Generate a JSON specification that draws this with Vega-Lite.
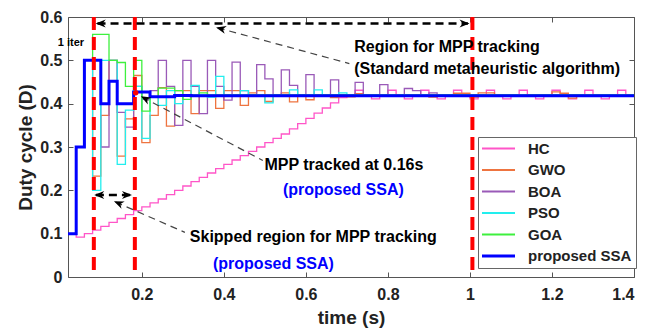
{
  "$schema": "https://vega.github.io/schema/vega-lite/v6.json",
  "width": 566,
  "height": 260,
  "autosize": {"type": "none"},
  "padding": {"left": 68, "top": 17, "right": 28, "bottom": 53},
  "background": "white",
  "config": {
    "font": "Liberation Sans",
    "view": {"stroke": "#555", "strokeWidth": 1},
    "axis": {"grid": false, "domain": false, "labelFont": "Liberation Sans", "labelFontWeight": "bold", "labelFontSize": 16, "labelColor": "#222", "titleFont": "Liberation Sans", "titleFontWeight": "bold", "titleFontSize": 19, "titleColor": "#222", "tickColor": "#555", "tickSize": -5},
    "text": {"font": "Liberation Sans", "fontWeight": "bold", "fontSize": 16}
  },
  "datasets": {
    "series": [
      {"alg": "HC", "t": 0.02, "v": 0.1}, {"alg": "HC", "t": 0.04, "v": 0.092}, {"alg": "HC", "t": 0.06, "v": 0.1}, {"alg": "HC", "t": 0.08, "v": 0.108}, {"alg": "HC", "t": 0.10, "v": 0.117}, {"alg": "HC", "t": 0.12, "v": 0.126}, {"alg": "HC", "t": 0.14, "v": 0.135}, {"alg": "HC", "t": 0.16, "v": 0.144}, {"alg": "HC", "t": 0.18, "v": 0.153}, {"alg": "HC", "t": 0.20, "v": 0.162}, {"alg": "HC", "t": 0.22, "v": 0.171}, {"alg": "HC", "t": 0.24, "v": 0.18}, {"alg": "HC", "t": 0.26, "v": 0.19}, {"alg": "HC", "t": 0.28, "v": 0.2}, {"alg": "HC", "t": 0.30, "v": 0.21}, {"alg": "HC", "t": 0.32, "v": 0.22}, {"alg": "HC", "t": 0.34, "v": 0.23}, {"alg": "HC", "t": 0.36, "v": 0.24}, {"alg": "HC", "t": 0.38, "v": 0.25}, {"alg": "HC", "t": 0.40, "v": 0.26}, {"alg": "HC", "t": 0.42, "v": 0.27}, {"alg": "HC", "t": 0.44, "v": 0.28}, {"alg": "HC", "t": 0.46, "v": 0.29}, {"alg": "HC", "t": 0.48, "v": 0.30}, {"alg": "HC", "t": 0.50, "v": 0.31}, {"alg": "HC", "t": 0.52, "v": 0.32}, {"alg": "HC", "t": 0.54, "v": 0.33}, {"alg": "HC", "t": 0.56, "v": 0.342}, {"alg": "HC", "t": 0.58, "v": 0.354}, {"alg": "HC", "t": 0.60, "v": 0.366}, {"alg": "HC", "t": 0.62, "v": 0.378}, {"alg": "HC", "t": 0.64, "v": 0.39}, {"alg": "HC", "t": 0.66, "v": 0.402}, {"alg": "HC", "t": 0.68, "v": 0.414}, {"alg": "HC", "t": 0.70, "v": 0.42}, {"alg": "HC", "t": 0.72, "v": 0.431}, {"alg": "HC", "t": 0.74, "v": 0.42}, {"alg": "HC", "t": 0.76, "v": 0.411}, {"alg": "HC", "t": 0.78, "v": 0.42}, {"alg": "HC", "t": 0.80, "v": 0.431}, {"alg": "HC", "t": 0.82, "v": 0.42}, {"alg": "HC", "t": 0.84, "v": 0.411}, {"alg": "HC", "t": 0.86, "v": 0.42}, {"alg": "HC", "t": 0.88, "v": 0.431}, {"alg": "HC", "t": 0.90, "v": 0.42}, {"alg": "HC", "t": 0.92, "v": 0.411}, {"alg": "HC", "t": 0.94, "v": 0.42}, {"alg": "HC", "t": 0.96, "v": 0.431}, {"alg": "HC", "t": 0.98, "v": 0.42}, {"alg": "HC", "t": 1.00, "v": 0.411}, {"alg": "HC", "t": 1.02, "v": 0.42}, {"alg": "HC", "t": 1.04, "v": 0.431}, {"alg": "HC", "t": 1.06, "v": 0.42}, {"alg": "HC", "t": 1.08, "v": 0.411}, {"alg": "HC", "t": 1.10, "v": 0.42}, {"alg": "HC", "t": 1.12, "v": 0.431}, {"alg": "HC", "t": 1.14, "v": 0.42}, {"alg": "HC", "t": 1.16, "v": 0.411}, {"alg": "HC", "t": 1.18, "v": 0.42}, {"alg": "HC", "t": 1.20, "v": 0.431}, {"alg": "HC", "t": 1.22, "v": 0.42}, {"alg": "HC", "t": 1.24, "v": 0.411}, {"alg": "HC", "t": 1.26, "v": 0.42}, {"alg": "HC", "t": 1.28, "v": 0.431}, {"alg": "HC", "t": 1.30, "v": 0.42}, {"alg": "HC", "t": 1.32, "v": 0.411}, {"alg": "HC", "t": 1.34, "v": 0.42}, {"alg": "HC", "t": 1.36, "v": 0.431}, {"alg": "HC", "t": 1.38, "v": 0.42}, {"alg": "HC", "t": 1.40, "v": 0.42},

      {"alg": "GWO", "t": 0.02, "v": 0.1}, {"alg": "GWO", "t": 0.04, "v": 0.3}, {"alg": "GWO", "t": 0.06, "v": 0.5}, {"alg": "GWO", "t": 0.08, "v": 0.233}, {"alg": "GWO", "t": 0.10, "v": 0.373}, {"alg": "GWO", "t": 0.12, "v": 0.5}, {"alg": "GWO", "t": 0.14, "v": 0.279}, {"alg": "GWO", "t": 0.16, "v": 0.365}, {"alg": "GWO", "t": 0.18, "v": 0.465}, {"alg": "GWO", "t": 0.20, "v": 0.31}, {"alg": "GWO", "t": 0.22, "v": 0.373}, {"alg": "GWO", "t": 0.24, "v": 0.437}, {"alg": "GWO", "t": 0.26, "v": 0.348}, {"alg": "GWO", "t": 0.28, "v": 0.43}, {"alg": "GWO", "t": 0.30, "v": 0.43}, {"alg": "GWO", "t": 0.32, "v": 0.377}, {"alg": "GWO", "t": 0.34, "v": 0.43}, {"alg": "GWO", "t": 0.36, "v": 0.43}, {"alg": "GWO", "t": 0.38, "v": 0.389}, {"alg": "GWO", "t": 0.40, "v": 0.43}, {"alg": "GWO", "t": 0.42, "v": 0.43}, {"alg": "GWO", "t": 0.44, "v": 0.396}, {"alg": "GWO", "t": 0.46, "v": 0.425}, {"alg": "GWO", "t": 0.48, "v": 0.43}, {"alg": "GWO", "t": 0.50, "v": 0.405}, {"alg": "GWO", "t": 0.52, "v": 0.42}, {"alg": "GWO", "t": 0.54, "v": 0.425}, {"alg": "GWO", "t": 0.56, "v": 0.404}, {"alg": "GWO", "t": 0.58, "v": 0.42}, {"alg": "GWO", "t": 0.60, "v": 0.409}, {"alg": "GWO", "t": 0.62, "v": 0.42}, {"alg": "GWO", "t": 0.64, "v": 0.418}, {"alg": "GWO", "t": 0.66, "v": 0.414}, {"alg": "GWO", "t": 0.68, "v": 0.42}, {"alg": "GWO", "t": 0.70, "v": 0.416}, {"alg": "GWO", "t": 0.72, "v": 0.423}, {"alg": "GWO", "t": 0.74, "v": 0.418}, {"alg": "GWO", "t": 0.76, "v": 0.42}, {"alg": "GWO", "t": 0.90, "v": 0.415}, {"alg": "GWO", "t": 0.92, "v": 0.42}, {"alg": "GWO", "t": 0.96, "v": 0.424}, {"alg": "GWO", "t": 1.00, "v": 0.415}, {"alg": "GWO", "t": 1.02, "v": 0.425}, {"alg": "GWO", "t": 1.06, "v": 0.421}, {"alg": "GWO", "t": 1.12, "v": 0.419}, {"alg": "GWO", "t": 1.14, "v": 0.42}, {"alg": "GWO", "t": 1.20, "v": 0.427}, {"alg": "GWO", "t": 1.22, "v": 0.424}, {"alg": "GWO", "t": 1.24, "v": 0.413}, {"alg": "GWO", "t": 1.26, "v": 0.42}, {"alg": "GWO", "t": 1.40, "v": 0.42},

      {"alg": "BOA", "t": 0.02, "v": 0.1}, {"alg": "BOA", "t": 0.04, "v": 0.3}, {"alg": "BOA", "t": 0.06, "v": 0.5}, {"alg": "BOA", "t": 0.08, "v": 0.5}, {"alg": "BOA", "t": 0.10, "v": 0.30}, {"alg": "BOA", "t": 0.12, "v": 0.5}, {"alg": "BOA", "t": 0.14, "v": 0.38}, {"alg": "BOA", "t": 0.16, "v": 0.346}, {"alg": "BOA", "t": 0.18, "v": 0.44}, {"alg": "BOA", "t": 0.20, "v": 0.41}, {"alg": "BOA", "t": 0.22, "v": 0.43}, {"alg": "BOA", "t": 0.24, "v": 0.5}, {"alg": "BOA", "t": 0.26, "v": 0.44}, {"alg": "BOA", "t": 0.28, "v": 0.35}, {"alg": "BOA", "t": 0.30, "v": 0.5}, {"alg": "BOA", "t": 0.32, "v": 0.44}, {"alg": "BOA", "t": 0.34, "v": 0.377}, {"alg": "BOA", "t": 0.36, "v": 0.5}, {"alg": "BOA", "t": 0.38, "v": 0.44}, {"alg": "BOA", "t": 0.40, "v": 0.408}, {"alg": "BOA", "t": 0.42, "v": 0.496}, {"alg": "BOA", "t": 0.44, "v": 0.43}, {"alg": "BOA", "t": 0.46, "v": 0.42}, {"alg": "BOA", "t": 0.48, "v": 0.49}, {"alg": "BOA", "t": 0.50, "v": 0.457}, {"alg": "BOA", "t": 0.52, "v": 0.42}, {"alg": "BOA", "t": 0.54, "v": 0.478}, {"alg": "BOA", "t": 0.56, "v": 0.442}, {"alg": "BOA", "t": 0.58, "v": 0.42}, {"alg": "BOA", "t": 0.60, "v": 0.467}, {"alg": "BOA", "t": 0.62, "v": 0.42}, {"alg": "BOA", "t": 0.66, "v": 0.455}, {"alg": "BOA", "t": 0.68, "v": 0.42}, {"alg": "BOA", "t": 0.72, "v": 0.449}, {"alg": "BOA", "t": 0.74, "v": 0.42}, {"alg": "BOA", "t": 0.78, "v": 0.444}, {"alg": "BOA", "t": 0.80, "v": 0.42}, {"alg": "BOA", "t": 0.84, "v": 0.435}, {"alg": "BOA", "t": 0.86, "v": 0.43}, {"alg": "BOA", "t": 0.88, "v": 0.42}, {"alg": "BOA", "t": 0.90, "v": 0.425}, {"alg": "BOA", "t": 0.92, "v": 0.42}, {"alg": "BOA", "t": 1.40, "v": 0.42},

      {"alg": "PSO", "t": 0.02, "v": 0.1}, {"alg": "PSO", "t": 0.04, "v": 0.3}, {"alg": "PSO", "t": 0.06, "v": 0.5}, {"alg": "PSO", "t": 0.08, "v": 0.2}, {"alg": "PSO", "t": 0.10, "v": 0.5}, {"alg": "PSO", "t": 0.12, "v": 0.5}, {"alg": "PSO", "t": 0.14, "v": 0.26}, {"alg": "PSO", "t": 0.16, "v": 0.385}, {"alg": "PSO", "t": 0.18, "v": 0.44}, {"alg": "PSO", "t": 0.20, "v": 0.32}, {"alg": "PSO", "t": 0.22, "v": 0.415}, {"alg": "PSO", "t": 0.24, "v": 0.396}, {"alg": "PSO", "t": 0.26, "v": 0.43}, {"alg": "PSO", "t": 0.28, "v": 0.40}, {"alg": "PSO", "t": 0.30, "v": 0.42}, {"alg": "PSO", "t": 0.32, "v": 0.442}, {"alg": "PSO", "t": 0.34, "v": 0.42}, {"alg": "PSO", "t": 0.36, "v": 0.415}, {"alg": "PSO", "t": 0.38, "v": 0.463}, {"alg": "PSO", "t": 0.40, "v": 0.42}, {"alg": "PSO", "t": 0.44, "v": 0.43}, {"alg": "PSO", "t": 0.46, "v": 0.42}, {"alg": "PSO", "t": 0.50, "v": 0.402}, {"alg": "PSO", "t": 0.52, "v": 0.42}, {"alg": "PSO", "t": 0.56, "v": 0.432}, {"alg": "PSO", "t": 0.58, "v": 0.42}, {"alg": "PSO", "t": 0.62, "v": 0.432}, {"alg": "PSO", "t": 0.64, "v": 0.42}, {"alg": "PSO", "t": 0.68, "v": 0.425}, {"alg": "PSO", "t": 0.70, "v": 0.42}, {"alg": "PSO", "t": 1.40, "v": 0.42},

      {"alg": "GOA", "t": 0.02, "v": 0.1}, {"alg": "GOA", "t": 0.04, "v": 0.3}, {"alg": "GOA", "t": 0.06, "v": 0.5}, {"alg": "GOA", "t": 0.08, "v": 0.56}, {"alg": "GOA", "t": 0.10, "v": 0.56}, {"alg": "GOA", "t": 0.12, "v": 0.5}, {"alg": "GOA", "t": 0.14, "v": 0.495}, {"alg": "GOA", "t": 0.16, "v": 0.44}, {"alg": "GOA", "t": 0.18, "v": 0.5}, {"alg": "GOA", "t": 0.20, "v": 0.383}, {"alg": "GOA", "t": 0.22, "v": 0.415}, {"alg": "GOA", "t": 0.24, "v": 0.436}, {"alg": "GOA", "t": 0.26, "v": 0.436}, {"alg": "GOA", "t": 0.28, "v": 0.43}, {"alg": "GOA", "t": 0.30, "v": 0.41}, {"alg": "GOA", "t": 0.32, "v": 0.42}, {"alg": "GOA", "t": 0.34, "v": 0.425}, {"alg": "GOA", "t": 0.36, "v": 0.42}, {"alg": "GOA", "t": 1.40, "v": 0.42},

      {"alg": "proposed SSA", "t": 0.02, "v": 0.1}, {"alg": "proposed SSA", "t": 0.04, "v": 0.3}, {"alg": "proposed SSA", "t": 0.06, "v": 0.5}, {"alg": "proposed SSA", "t": 0.08, "v": 0.5}, {"alg": "proposed SSA", "t": 0.10, "v": 0.4}, {"alg": "proposed SSA", "t": 0.12, "v": 0.452}, {"alg": "proposed SSA", "t": 0.14, "v": 0.4}, {"alg": "proposed SSA", "t": 0.16, "v": 0.4}, {"alg": "proposed SSA", "t": 0.18, "v": 0.427}, {"alg": "proposed SSA", "t": 0.20, "v": 0.427}, {"alg": "proposed SSA", "t": 0.22, "v": 0.416}, {"alg": "proposed SSA", "t": 0.28, "v": 0.419}, {"alg": "proposed SSA", "t": 0.32, "v": 0.418}, {"alg": "proposed SSA", "t": 1.40, "v": 0.418}
    ],
    "notes": [
      {"t": 0.718, "v": 0.531, "label": "Region for MPP tracking", "kind": "black"},
      {"t": 0.718, "v": 0.481, "label": "(Standard metaheuristic algorithm)", "kind": "black"},
      {"t": 0.499, "v": 0.258, "label": "MPP tracked at 0.16s", "kind": "black"},
      {"t": 0.544, "v": 0.200, "label": "(proposed SSA)", "kind": "blue"},
      {"t": 0.317, "v": 0.0923, "label": "Skipped region for MPP tracking", "kind": "black"},
      {"t": 0.3735, "v": 0.031, "label": "(proposed SSA)", "kind": "blue"}
    ]
  },
  "layer": [
    {
      "data": {"name": "series"},
      "transform": [{"filter": "datum.alg !== 'proposed SSA'"}],
      "mark": {"type": "line", "interpolate": "step-after", "strokeWidth": 1.3},
      "encoding": {
        "x": {"field": "t", "type": "quantitative", "scale": {"domain": [0.02, 1.4], "nice": false, "zero": false},
              "axis": {"orient": "bottom", "values": [0.2, 0.4, 0.6, 0.8, 1, 1.2, 1.4], "format": "~g", "labelPadding": 14, "title": "time (s)", "titlePadding": 6}},
        "y": {"field": "v", "type": "quantitative", "scale": {"domain": [0, 0.6], "nice": false, "zero": false},
              "axis": {"orient": "left", "values": [0, 0.1, 0.2, 0.3, 0.4, 0.5, 0.6], "format": "~g", "labelPadding": 11, "title": "Duty cycle (D)", "titlePadding": 4}},
        "color": {"field": "alg", "type": "nominal",
                  "scale": {"domain": ["HC", "GWO", "BOA", "PSO", "GOA", "proposed SSA"], "range": ["#ff55c8", "#ee7440", "#9a5ab8", "#22eeee", "#3ef03e", "#0000ff"]},
                  "legend": {"orient": "none", "legendX": 410, "legendY": 120, "title": null, "symbolType": "stroke", "symbolSize": 1089, "symbolStrokeWidth": 2, "symbolOffset": 9,
                             "labelFont": "Liberation Sans", "labelFontWeight": "bold", "labelFontSize": 15, "labelColor": "#222", "labelOffset": 22,
                             "padding": 4, "rowPadding": 5.5, "strokeColor": "#666", "fillColor": "white",
                             "encode": {"symbols": {"update": {"strokeWidth": {"signal": "datum.value === 'proposed SSA' ? 3 : 2"}}}}}},
        "detail": {"field": "alg"}
      }
    },
    {
      "data": {"name": "series"},
      "transform": [{"filter": "datum.alg === 'proposed SSA'"}],
      "mark": {"type": "line", "interpolate": "step-after", "strokeWidth": 3},
      "encoding": {
        "x": {"field": "t", "type": "quantitative", "axis": null},
        "y": {"field": "v", "type": "quantitative", "axis": null},
        "color": {"field": "alg", "type": "nominal"}
      }
    },
    {
      "data": {"values": [{"t": 0.083}, {"t": 0.183}, {"t": 1.006}]},
      "mark": {"type": "rule", "color": "#ff0000", "strokeWidth": 4, "strokeDash": [13, 7]},
      "encoding": {
        "x": {"field": "t", "type": "quantitative", "axis": {"orient": "top", "values": [0.2, 0.4, 0.6, 0.8, 1, 1.2, 1.4], "labels": false, "title": null}}
      }
    },
    {
      "data": {"values": [{"t": 0.185, "v": 0.425}]},
      "mark": {"type": "point", "filled": true, "color": "#ff0000", "size": 30, "opacity": 1},
      "encoding": {"x": {"field": "t", "type": "quantitative", "axis": null}, "y": {"field": "v", "type": "quantitative", "axis": null}}
    },
    {
      "data": {"values": [{"t": 0.092, "v": 0.585, "t2": 0.995, "v2": 0.585}, {"t": 0.088, "v": 0.189, "t2": 0.172, "v2": 0.189}]},
      "mark": {"type": "rule", "color": "black", "strokeWidth": 2.5, "strokeDash": [8, 5]},
      "encoding": {"x": {"field": "t", "type": "quantitative", "axis": null}, "y": {"field": "v", "type": "quantitative", "axis": null}, "x2": {"field": "t2"}, "y2": {"field": "v2"}}
    },
    {
      "data": {"values": [{"t": 0.385, "v": 0.575, "t2": 0.706, "v2": 0.4925}, {"t": 0.201, "v": 0.415, "t2": 0.495, "v2": 0.269}, {"t": 0.136, "v": 0.173, "t2": 0.305, "v2": 0.103}]},
      "mark": {"type": "rule", "color": "#444", "strokeWidth": 1.2, "strokeDash": [7, 5]},
      "encoding": {"x": {"field": "t", "type": "quantitative", "axis": null}, "y": {"field": "v", "type": "quantitative", "axis": null}, "x2": {"field": "t2"}, "y2": {"field": "v2"}}
    },
    {
      "data": {"values": [{"t": 0.0875, "v": 0.585}, {"t": 0.084, "v": 0.189}]},
      "mark": {"type": "point", "shape": "M0,0 L-2,-0.8 L-1.4,0 L-2,0.8 Z", "size": 100, "filled": true, "color": "black", "opacity": 1, "angle": 180},
      "encoding": {"x": {"field": "t", "type": "quantitative", "axis": null}, "y": {"field": "v", "type": "quantitative", "axis": null}}
    },
    {
      "data": {"values": [{"t": 0.999, "v": 0.585}, {"t": 0.176, "v": 0.189}]},
      "mark": {"type": "point", "shape": "M0,0 L-2,-0.8 L-1.4,0 L-2,0.8 Z", "size": 100, "filled": true, "color": "black", "opacity": 1, "angle": 0},
      "encoding": {"x": {"field": "t", "type": "quantitative", "axis": null}, "y": {"field": "v", "type": "quantitative", "axis": null}}
    },
    {
      "data": {"values": [{"t": 0.381, "v": 0.576}]},
      "mark": {"type": "point", "shape": "M0,0 L-2,-0.8 L-1.4,0 L-2,0.8 Z", "size": 100, "filled": true, "color": "black", "opacity": 1, "angle": 194.7},
      "encoding": {"x": {"field": "t", "type": "quantitative", "axis": null}, "y": {"field": "v", "type": "quantitative", "axis": null}}
    },
    {
      "data": {"values": [{"t": 0.1976, "v": 0.417}]},
      "mark": {"type": "point", "shape": "M0,0 L-2,-0.8 L-1.4,0 L-2,0.8 Z", "size": 100, "filled": true, "color": "black", "opacity": 1, "angle": 207.6},
      "encoding": {"x": {"field": "t", "type": "quantitative", "axis": null}, "y": {"field": "v", "type": "quantitative", "axis": null}}
    },
    {
      "data": {"values": [{"t": 0.132, "v": 0.175}]},
      "mark": {"type": "point", "shape": "M0,0 L-2,-0.8 L-1.4,0 L-2,0.8 Z", "size": 100, "filled": true, "color": "black", "opacity": 1, "angle": 203.6},
      "encoding": {"x": {"field": "t", "type": "quantitative", "axis": null}, "y": {"field": "v", "type": "quantitative", "axis": null}}
    },
    {
      "data": {"name": "notes"},
      "transform": [{"filter": "datum.kind === 'black'"}],
      "mark": {"type": "text", "align": "left", "baseline": "middle", "color": "black"},
      "encoding": {
        "x": {"field": "t", "type": "quantitative", "axis": null},
        "y": {"field": "v", "type": "quantitative", "axis": {"orient": "right", "values": [0, 0.1, 0.2, 0.3, 0.4, 0.5, 0.6], "labels": false, "title": null}},
        "text": {"field": "label"}
      }
    },
    {
      "data": {"name": "notes"},
      "transform": [{"filter": "datum.kind === 'blue'"}],
      "mark": {"type": "text", "align": "left", "baseline": "middle", "color": "#0000ff"},
      "encoding": {
        "x": {"field": "t", "type": "quantitative", "axis": null},
        "y": {"field": "v", "type": "quantitative", "axis": null},
        "text": {"field": "label"}
      }
    },
    {
      "data": {"values": [{"t": 0.0273, "v": 0.5405, "label": "1 iter"}]},
      "mark": {"type": "text", "align": "center", "baseline": "middle", "color": "black", "fontSize": 11},
      "encoding": {
        "x": {"field": "t", "type": "quantitative", "axis": null},
        "y": {"field": "v", "type": "quantitative", "axis": null},
        "text": {"field": "label"}
      }
    }
  ],
  "resolve": {"axis": {"x": "independent", "y": "independent"}}
}
